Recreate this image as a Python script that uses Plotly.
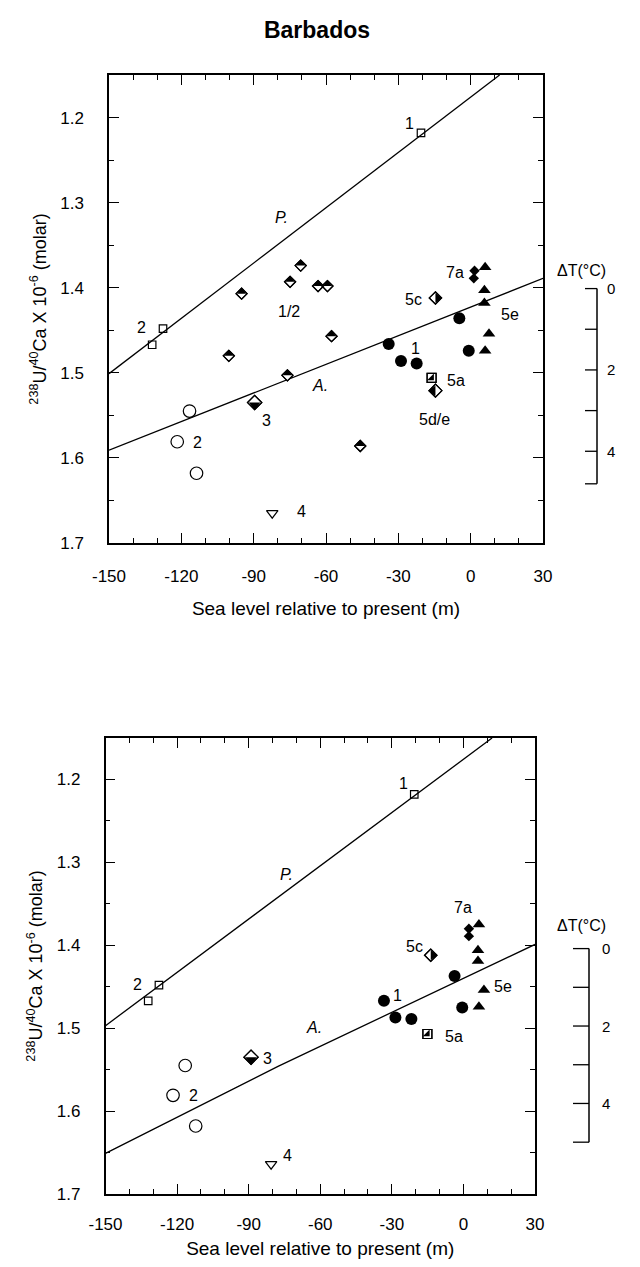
import plotly.graph_objects as go

W, H = 640, 1267
FONT = "Liberation Sans, Arial, sans-serif"
BLACK = "black"

# ---------------- axis ticks ----------------
x_ticks = [-150, -120, -90, -60, -30, 0, 30]
x_tick_text = ["-150", "-120", "-90", "-60", "-30", "0", "30"]
y_ticks = [1.2, 1.3, 1.4, 1.5, 1.6, 1.7]
y_tick_text = ["1.2", "1.3", "1.4", "1.5", "1.6", "1.7"]
dT_ticks = [0, 1, 2, 3, 4]
dT_tick_text = ["0", "", "2", "", "4"]

# ---------------- upper panel data ----------------
up_sq_x = [-20.6, -127.6, -132.1]
up_sq_y = [1.218, 1.448, 1.467]
up_d12_x = [-95.0, -100.3, -74.9, -70.5, -63.3, -59.4, -57.7, -76.0, -45.8]
up_d12_y = [1.407, 1.480, 1.393, 1.374, 1.398, 1.398, 1.457, 1.503, 1.586]
up_d3_x = [-89.6]
up_d3_y = [1.535]
up_oc_x = [-116.6, -121.7, -113.7]
up_oc_y = [1.545, 1.581, 1.618]
up_t4_x = [-82.3]
up_t4_y = [1.665]
up_fc_x = [-34.0, -28.9, -22.4, -4.7, -0.8]
up_fc_y = [1.466, 1.486, 1.489, 1.436, 1.474]
up_tri_x = [6.0, 5.7, 5.7, 7.6, 6.0]
up_tri_y = [1.376, 1.403, 1.418, 1.454, 1.474]
up_7a_x = [1.6, 1.3]
up_7a_y = [1.380, 1.389]
up_5c_x = [-14.6]
up_5c_y = [1.412]
up_5a_x = [-16.2]
up_5a_y = [1.506]
up_5de_x = [-14.6]
up_5de_y = [1.521]
up_P_x = [-150, 12]
up_P_y = [1.501, 1.150]
up_A_x = [-150, 30]
up_A_y = [1.591, 1.389]
up_labels = ["1", "<i>P.</i>", "2", "1/2", "<i>A.</i>", "3", "2", "4",
             "7a", "5c", "5e", "1", "5a", "5d/e"]
up_label_x = [-25.3, -78.5, -136.7, -75.3, -62.5, -84.5, -113.5, -70.0,
              -6.6, -23.9, 16.2, -22.8, -6.2, -14.9]
up_label_y = [1.207, 1.317, 1.447, 1.428, 1.515, 1.556, 1.582, 1.663,
              1.382, 1.414, 1.432, 1.472, 1.509, 1.555]
up_dT0, up_dTstep, up_dTend = 1.401, 0.0478, 4.8

# ---------------- lower panel data ----------------
lo_sq_x = [-20.6, -127.6, -132.1]
lo_sq_y = [1.218, 1.448, 1.467]
lo_d3_x = [-89.0]
lo_d3_y = [1.535]
lo_oc_x = [-116.6, -121.7, -112.2]
lo_oc_y = [1.545, 1.581, 1.618]
lo_t4_x = [-80.6]
lo_t4_y = [1.664]
lo_fc_x = [-33.3, -28.5, -21.8, -3.7, -0.5]
lo_fc_y = [1.467, 1.487, 1.489, 1.437, 1.475]
lo_tri_x = [6.5, 6.1, 6.1, 8.6, 6.5]
lo_tri_y = [1.375, 1.406, 1.419, 1.454, 1.474]
lo_7a_x = [2.3, 2.3]
lo_7a_y = [1.380, 1.389]
lo_5c_x = [-13.7]
lo_5c_y = [1.412]
lo_5a_x = [-15.1]
lo_5a_y = [1.507]
lo_P_x = [-150, 12]
lo_P_y = [1.497, 1.150]
lo_A_x = [-150, -77.7, 30]
lo_A_y = [1.651, 1.546, 1.399]
lo_labels = ["1", "<i>P.</i>", "2", "<i>A.</i>", "3", "2", "4",
             "7a", "5c", "1", "5e", "5a"]
lo_label_x = [-25.0, -74.0, -136.7, -62.6, -82.0, -113.0, -73.7,
              -0.2, -20.7, -27.8, 16.6, -3.9]
lo_label_y = [1.205, 1.315, 1.447, 1.499, 1.537, 1.581, 1.654,
              1.355, 1.402, 1.460, 1.450, 1.510]
lo_dT0, lo_dTstep, lo_dTend = 1.404, 0.0467, 5.0

fig = go.Figure()


def add_markers(xa, ya, x, y, **marker):
    fig.add_trace(go.Scatter(x=x, y=y, mode="markers", xaxis=xa, yaxis=ya,
                             marker=marker, showlegend=False,
                             hoverinfo="skip", cliponaxis=False))


def line_trace(xa, ya, x, y):
    fig.add_trace(go.Scatter(x=x, y=y, mode="lines", xaxis=xa, yaxis=ya,
                             line=dict(color=BLACK, width=1.3),
                             showlegend=False, hoverinfo="skip"))


def open_marker(xa, ya, x, y, symbol, size):
    add_markers(xa, ya, x, y, symbol=symbol, size=size, color=BLACK,
                line=dict(color=BLACK, width=1.2))


def solid_marker(xa, ya, x, y, symbol, size):
    add_markers(xa, ya, x, y, symbol=symbol, size=size, color=BLACK,
                line=dict(width=0))


def half_diamond(xa, ya, x, y, size, black_side):
    angle = {"bottom": 0, "left": 90, "top": 180, "right": 270}[black_side]
    add_markers(xa, ya, x, y, symbol="diamond", size=size, color="white",
                line=dict(color=BLACK, width=1.2))
    t = 0.92 * size
    add_markers(xa, ya, x, y, symbol="triangle-down", size=t, color=BLACK,
                angle=angle, standoff=t / 4, line=dict(width=0))
    add_markers(xa, ya, x, y, symbol="diamond-open", size=size, color=BLACK,
                line=dict(color=BLACK, width=1.2))


def half_square(xa, ya, x, y, size):
    add_markers(xa, ya, x, y, symbol="square", size=size, color="white",
                line=dict(color=BLACK, width=1.2))
    add_markers(xa, ya, x, y, symbol="triangle-se", size=size / 1.2,
                color=BLACK, line=dict(width=0))
    add_markers(xa, ya, x, y, symbol="square-open", size=size, color=BLACK,
                line=dict(color=BLACK, width=1.2))


# ---- upper panel ----
line_trace("x", "y", up_P_x, up_P_y)
line_trace("x", "y", up_A_x, up_A_y)
open_marker("x", "y", up_sq_x, up_sq_y, "square-open", 7.5)
half_diamond("x", "y", up_d12_x, up_d12_y, 8.5, "top")
half_diamond("x", "y", up_d3_x, up_d3_y, 11, "bottom")
open_marker("x", "y", up_oc_x, up_oc_y, "circle-open", 12.5)
open_marker("x", "y", up_t4_x, up_t4_y, "triangle-down-open", 10)
solid_marker("x", "y", up_fc_x, up_fc_y, "circle", 12)
solid_marker("x", "y", up_tri_x, up_tri_y, "triangle-up", 11)
solid_marker("x", "y", up_7a_x, up_7a_y, "diamond", 8)
half_diamond("x", "y", up_5c_x, up_5c_y, 9.5, "right")
half_diamond("x", "y", up_5de_x, up_5de_y, 10, "left")
half_square("x", "y", up_5a_x, up_5a_y, 9)

# ---- lower panel ----
line_trace("x2", "y2", lo_P_x, lo_P_y)
line_trace("x2", "y2", lo_A_x, lo_A_y)
open_marker("x2", "y2", lo_sq_x, lo_sq_y, "square-open", 7.5)
half_diamond("x2", "y2", lo_d3_x, lo_d3_y, 11, "bottom")
open_marker("x2", "y2", lo_oc_x, lo_oc_y, "circle-open", 12.5)
open_marker("x2", "y2", lo_t4_x, lo_t4_y, "triangle-down-open", 10)
solid_marker("x2", "y2", lo_fc_x, lo_fc_y, "circle", 12)
solid_marker("x2", "y2", lo_tri_x, lo_tri_y, "triangle-up", 11)
solid_marker("x2", "y2", lo_7a_x, lo_7a_y, "diamond", 8)
half_diamond("x2", "y2", lo_5c_x, lo_5c_y, 9.5, "right")
half_square("x2", "y2", lo_5a_x, lo_5a_y, 9)

annotations = []
shapes = []


def add_labels(xref, yref, texts, xs, ys):
    for t, xv, yv in zip(texts, xs, ys):
        annotations.append(dict(text=t, x=xv, y=yv, xref=xref, yref=yref,
                                showarrow=False,
                                font=dict(family=FONT, size=16, color=BLACK)))


add_labels("x", "y", up_labels, up_label_x, up_label_y)
add_labels("x2", "y2", lo_labels, lo_label_x, lo_label_y)


def dT_scale(yref, dT0, dTstep, dTend, x_line_px, tick_len_px, label_px,
             title_px, title_dT):
    def to_y(v):
        return dT0 + v * dTstep
    xl = x_line_px / W
    xt = (x_line_px - tick_len_px) / W
    shapes.append(dict(type="line", xref="paper", yref=yref, x0=xl, x1=xl,
                       y0=to_y(0), y1=to_y(dTend),
                       line=dict(color=BLACK, width=1.5)))
    for v, txt in zip(dT_ticks, dT_tick_text):
        shapes.append(dict(type="line", xref="paper", yref=yref, x0=xt, x1=xl,
                           y0=to_y(v), y1=to_y(v),
                           line=dict(color=BLACK, width=1.3)))
        if txt:
            annotations.append(dict(text=txt, x=label_px / W, y=to_y(v),
                                    xref="paper", yref=yref, xanchor="left",
                                    showarrow=False,
                                    font=dict(family=FONT, size=15, color=BLACK)))
    shapes.append(dict(type="line", xref="paper", yref=yref, x0=xt, x1=xl,
                       y0=to_y(dTend), y1=to_y(dTend),
                       line=dict(color=BLACK, width=1.3)))
    annotations.append(dict(text="\u0394T(\u00b0C)", x=title_px / W,
                            y=to_y(title_dT), xref="paper", yref=yref,
                            showarrow=False,
                            font=dict(family=FONT, size=16, color=BLACK)))


dT_scale("y", up_dT0, up_dTstep, up_dTend, 589, 12, 597, 600, -0.45)
dT_scale("y2", lo_dT0, lo_dTstep, lo_dTend, 581, 16, 592, 600, -0.6)

Y_TITLE = "<sup>238</sup>U/<sup>40</sup>Ca X 10<sup>-6</sup> (molar)"
X_TITLE = "Sea level relative to present (m)"


def xaxis_cfg(domain, anchor, label_standoff, title_standoff):
    return dict(domain=domain, anchor=anchor, range=[-150, 30],
                tickmode="array", tickvals=x_ticks, ticktext=x_tick_text,
                showline=True, linecolor=BLACK, linewidth=1.5, mirror="ticks",
                ticks="inside", ticklen=10, tickwidth=1.3, tickcolor=BLACK,
                minor=dict(dtick=10, tick0=-150, ticks="inside", ticklen=5,
                           tickwidth=1, tickcolor=BLACK, showgrid=False),
                showgrid=False, zeroline=False,
                ticklabelstandoff=label_standoff,
                tickfont=dict(family=FONT, size=17, color=BLACK),
                title=dict(text=X_TITLE, standoff=title_standoff,
                           font=dict(family=FONT, size=19, color=BLACK)))


def yaxis_cfg(domain, anchor):
    return dict(domain=domain, anchor=anchor, range=[1.7, 1.15],
                tickmode="array", tickvals=y_ticks, ticktext=y_tick_text,
                showline=True, linecolor=BLACK, linewidth=1.5, mirror="ticks",
                ticks="inside", ticklen=10, tickwidth=1.3, tickcolor=BLACK,
                minor=dict(dtick=0.05, tick0=1.2, ticks="inside", ticklen=5,
                           tickwidth=1, tickcolor=BLACK, showgrid=False),
                showgrid=False, zeroline=False, ticklabelstandoff=20,
                tickfont=dict(family=FONT, size=17, color=BLACK),
                title=dict(text=Y_TITLE, standoff=9,
                           font=dict(family=FONT, size=18, color=BLACK)))


fig.update_layout(
    template="none",
    width=W, height=H, autosize=False,
    margin=dict(l=0, r=0, t=0, b=0),
    paper_bgcolor="white", plot_bgcolor="white",
    font=dict(family=FONT, color=BLACK),
    title=dict(text="Barbados", x=309 / W, xanchor="center",
               y=1 - 22 / H, yanchor="middle",
               font=dict(family=FONT, size=23, color=BLACK, weight="bold")),
    xaxis=xaxis_cfg([101 / W, 535 / W], "y", 17, 17),
    yaxis=yaxis_cfg([1 - 535 / H, 1 - 67 / H], "x"),
    xaxis2=xaxis_cfg([97.5 / W, 527 / W], "y2", 14, 9),
    yaxis2=yaxis_cfg([1 - 1186 / H, 1 - 730 / H], "x2"),
    annotations=annotations,
    shapes=shapes,
    showlegend=False,
)

fig.write_html("out.html")
